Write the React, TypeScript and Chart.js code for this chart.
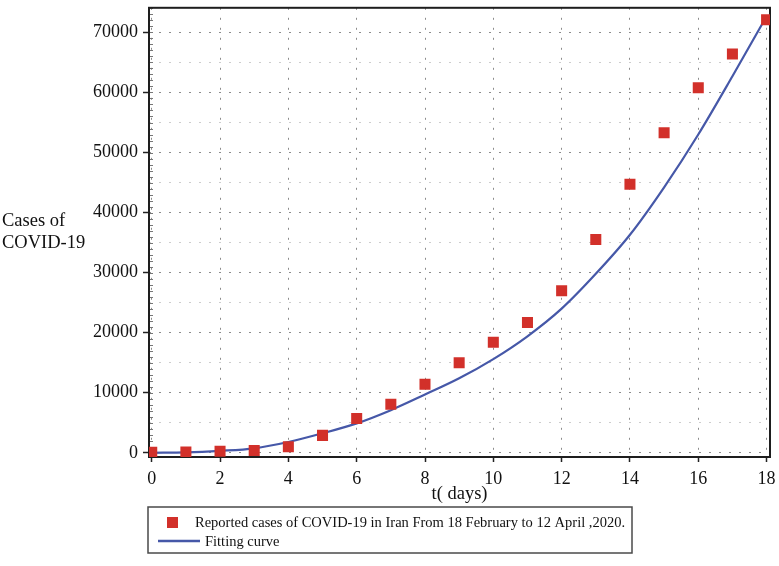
import React, { useEffect, useRef } from "react";
import { Chart, registerables } from "chart.js";

Chart.register(...registerables);

// ---- data ----
const DAYS = [0, 1, 2, 3, 4, 5, 6, 7, 8, 9, 10, 11, 12, 13, 14, 15, 16, 17, 18];
const REPORTED = [100, 150, 250, 400, 1000, 2900, 5700, 8100, 11400, 15000, 18400, 21700, 27000, 35500, 44700, 53300, 60800, 66400, 72100];
const FIT = [0, 60, 320, 750, 1800, 3250, 4900, 7100, 9700, 12400, 15600, 19400, 24000, 29800, 36300, 44200, 53000, 62700, 72700];
const X_TICKS = [0, 2, 4, 6, 8, 10, 12, 14, 16, 18];
const Y_TICKS = [0, 5000, 10000, 15000, 20000, 25000, 30000, 35000, 40000, 45000, 50000, 55000, 60000, 65000, 70000];
const Y_LABELED = [0, 10000, 20000, 30000, 40000, 50000, 60000, 70000];
const SERIES_NAMES = ["Reported cases of COVID-19 in Iran From 18 February to 12 April ,2020.", "Fitting curve"];
const Y_TITLE = ["Cases of", "COVID-19"];
const X_TITLE = "t( days)";

const FONT = '"Liberation Serif", "Times New Roman", serif';
const RED = "#d2302a";
const BLUE = "#4658a8";

const decorPlugin = {
  id: "decor",
  beforeDatasetsDraw(chart: any) {
    const { ctx, chartArea: a, scales } = chart;
    ctx.save();
    // minor ticks on the inner side of the y axis
    ctx.strokeStyle = "#777";
    ctx.lineWidth = 1;
    const ys = scales.y;
    for (let v = 0; v <= 74000; v += 1000) {
      const py = Math.round(ys.getPixelForValue(v)) + 0.5;
      ctx.beginPath();
      ctx.moveTo(a.left, py);
      ctx.lineTo(a.left + 4, py);
      ctx.stroke();
    }
    // frame
    ctx.strokeStyle = "#1e1e1e";
    ctx.lineWidth = 2;
    ctx.strokeRect(a.left, a.top, a.right - a.left, a.bottom - a.top);
    ctx.restore();
  },
  afterDraw(chart: any) {
    const { ctx, chartArea: a } = chart;
    ctx.save();
    ctx.fillStyle = "#111";
    ctx.font = `18.5px ${FONT}`;
    ctx.textBaseline = "alphabetic";
    ctx.textAlign = "left";
    ctx.fillText(Y_TITLE[0], 2, 226);
    ctx.fillText(Y_TITLE[1], 2, 248);
    ctx.textAlign = "center";
    ctx.fillText(X_TITLE, (a.left + a.right) / 2, 499);

    // legend
    const bx = 148, by = 507, bw = 484, bh = 46;
    ctx.strokeStyle = "#4a4a4a";
    ctx.lineWidth = 1.5;
    ctx.strokeRect(bx, by, bw, bh);
    ctx.fillStyle = RED;
    ctx.fillRect(167, 517, 11, 11);
    ctx.strokeStyle = BLUE;
    ctx.lineWidth = 2.5;
    ctx.beginPath();
    ctx.moveTo(158, 541);
    ctx.lineTo(200, 541);
    ctx.stroke();
    ctx.fillStyle = "#111";
    ctx.textAlign = "left";
    ctx.font = `14.5px ${FONT}`;
    ctx.fillText(SERIES_NAMES[0], 195, 527);
    ctx.fillText(SERIES_NAMES[1], 205, 546);
    ctx.restore();
  },
};

export default function App() {
  const ref = useRef<HTMLCanvasElement | null>(null);

  useEffect(() => {
    if (!ref.current) return;
    const chart = new Chart(ref.current, {
      type: "scatter",
      data: {
        datasets: [
          {
            label: SERIES_NAMES[1],
            data: DAYS.map((d, i) => ({ x: d, y: FIT[i] })),
            showLine: true,
            borderColor: BLUE,
            borderWidth: 2.2,
            pointRadius: 0,
            cubicInterpolationMode: "monotone",
            order: 2,
          } as any,
          {
            label: SERIES_NAMES[0],
            data: DAYS.map((d, i) => ({ x: d, y: REPORTED[i] })),
            pointStyle: "rect",
            pointRadius: 7.8,
            pointBorderWidth: 0,
            backgroundColor: RED,
            borderColor: RED,
            showLine: false,
            order: 1,
          } as any,
        ],
      },
      options: {
        animation: false,
        responsive: false,
        devicePixelRatio: 1,
        layout: { padding: { top: 4, right: 9, left: 0, bottom: 0 } },
        plugins: { legend: { display: false }, tooltip: { enabled: false } },
        scales: {
          x: {
            type: "linear",
            min: -0.08,
            max: 18.1,
            afterBuildTicks: (s: any) => {
              s.ticks = X_TICKS.map((v) => ({ value: v }));
            },
            afterFit: (s: any) => {
              s.height = 109;
              s.paddingLeft = 0;
              s.paddingRight = 0;
            },
            ticks: {
              font: { family: FONT, size: 18 },
              color: "#111",
              padding: 6,
              maxRotation: 0,
              autoSkip: false,
            },
            grid: {
              color: "#8c8c8c",
              lineWidth: 1,
              tickLength: 5,
              tickColor: "#222",
              tickWidth: 1.5,
            },
            border: { display: false, dash: [2, 8] },
          },
          y: {
            type: "linear",
            min: -700,
            max: 74100,
            afterBuildTicks: (s: any) => {
              s.ticks = Y_TICKS.map((v) => ({ value: v }));
            },
            afterFit: (s: any) => {
              s.width = 149;
              s.paddingTop = 0;
              s.paddingBottom = 0;
            },
            ticks: {
              font: { family: FONT, size: 18 },
              color: "#111",
              padding: 5,
              autoSkip: false,
              callback: (v: any) => (Y_LABELED.includes(Number(v)) ? String(v) : ""),
            },
            grid: {
              color: (c: any) => (c.tick && Y_LABELED.includes(c.tick.value) ? "#8c8c8c" : "#cdcdcd"),
              lineWidth: 1,
              tickLength: 6,
              tickColor: (c: any) => (c.tick && Y_LABELED.includes(c.tick.value) ? "#222" : "rgba(0,0,0,0)"),
              tickWidth: 1.5,
            },
            border: { display: false, dash: [2, 8] },
          },
        },
      },
      plugins: [decorPlugin],
    } as any);
    return () => chart.destroy();
  }, []);

  return (
    <div style={{ position: "absolute", left: 0, top: 0, width: 779, height: 566, background: "#fff" }}>
      <canvas ref={ref} width={779} height={566} style={{ display: "block" }} />
    </div>
  );
}
